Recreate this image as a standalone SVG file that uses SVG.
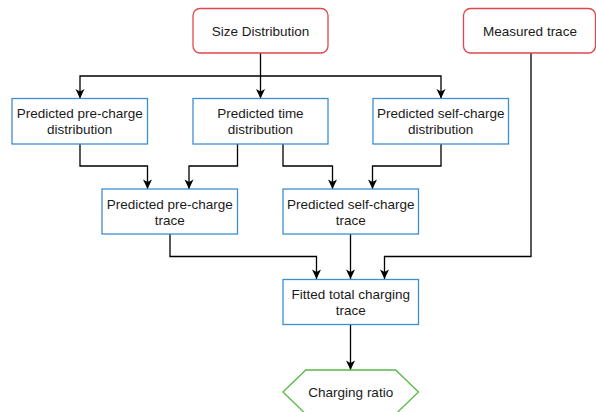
<svg xmlns="http://www.w3.org/2000/svg" width="596" height="412" viewBox="0 0 596 412">
<defs>
<marker id="arr" markerWidth="11" markerHeight="11" viewBox="0 0 11 11" refX="10" refY="5.5" orient="auto" markerUnits="userSpaceOnUse">
<path d="M0.5,1 L10,5.5 L0.5,10 L3,5.5 Z" fill="#000"/>
</marker>
<style>
.red{fill:#fff;stroke:#e0474c;stroke-width:1.3}
.blue{fill:#fff;stroke:#3d8fd1;stroke-width:1.3}
.green{fill:#fff;stroke:#58b947;stroke-width:1.3}
text{font-family:"Liberation Sans",Arial,sans-serif;font-size:13.5px;fill:#1a1a1a;text-anchor:middle}
.c path{fill:none;stroke:#000;stroke-width:1.3;marker-end:url(#arr)}
</style>
</defs>
<rect width="596" height="412" fill="#fff"/>
<g class="c" id="connectors">
<path d="M260.5,53 V76 H80 V98.5"/>
<path d="M260.5,76 V98.5"/>
<path d="M260.5,76 H441 V98.5"/>
<path d="M80,144 V166 H147.5 V189"/>
<path d="M237.5,144 V166 H189 V189"/>
<path d="M283,144 V166 H332.5 V189"/>
<path d="M441,144 V166 H372.5 V189"/>
<path d="M170,234 V256.5 H316.5 V279"/>
<path d="M350.5,234 V279"/>
<path d="M531,53 V256.5 H384.5 V279"/>
<path d="M350.5,324.5 V370"/>
</g>
<g id="size-distribution">
<rect class="red" x="193" y="8.5" width="135" height="44.5" rx="7"/>
<text x="260.5" y="35.5">Size Distribution</text>
</g>
<g id="measured-trace">
<rect class="red" x="463.5" y="8.5" width="132" height="44.5" rx="7"/>
<text x="530" y="35.5">Measured trace</text>
</g>
<g id="pred-precharge-dist">
<rect class="blue" x="12" y="98.5" width="135.5" height="45.5"/>
<text x="79.75" y="118">Predicted pre-charge</text>
<text x="79.75" y="134.2">distribution</text>
</g>
<g id="pred-time-dist">
<rect class="blue" x="193" y="98.5" width="135" height="45.5"/>
<text x="260.5" y="118">Predicted time</text>
<text x="260.5" y="134.2">distribution</text>
</g>
<g id="pred-selfcharge-dist">
<rect class="blue" x="373" y="98.5" width="135.5" height="45.5"/>
<text x="440.75" y="118">Predicted self-charge</text>
<text x="440.75" y="134.2">distribution</text>
</g>
<g id="pred-precharge-trace">
<rect class="blue" x="102" y="189" width="135.5" height="45"/>
<text x="169.75" y="208.5">Predicted pre-charge</text>
<text x="169.75" y="224.7">trace</text>
</g>
<g id="pred-selfcharge-trace">
<rect class="blue" x="283" y="189" width="135.5" height="45"/>
<text x="350.75" y="208.5">Predicted self-charge</text>
<text x="350.75" y="224.7">trace</text>
</g>
<g id="fitted-total">
<rect class="blue" x="283" y="279.5" width="135.5" height="45"/>
<text x="350.75" y="299">Fitted total charging</text>
<text x="350.75" y="315.2">trace</text>
</g>
<g id="charging-ratio">
<polygon class="green" points="283,392 305.7,370 395.7,370 418.5,392 395.7,414 305.7,414"/>
<text x="350.75" y="396.8">Charging ratio</text>
</g>
</svg>
